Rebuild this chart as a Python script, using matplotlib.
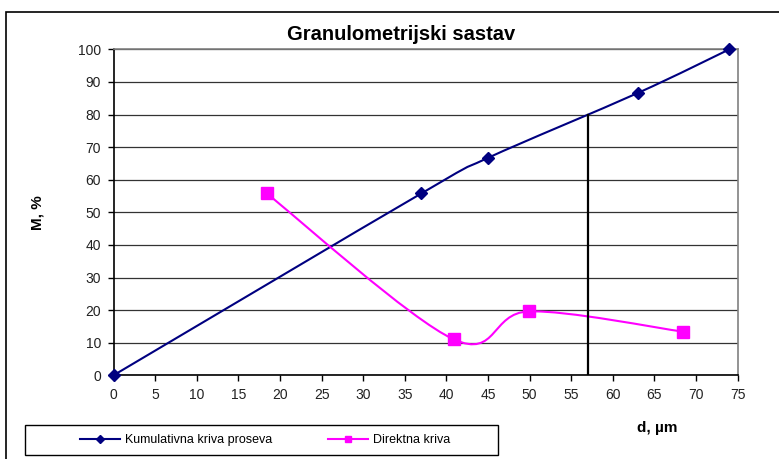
import matplotlib
matplotlib.use("Agg")
import matplotlib.pyplot as plt
from matplotlib.path import Path
from matplotlib.patches import PathPatch, Rectangle
from matplotlib.lines import Line2D

plt.rcParams["font.family"] = ["Liberation Sans", "DejaVu Sans"]

# cumulative curve
kum_x = [0, 37, 45, 63, 74]
kum_y = [0, 55.8, 66.7, 86.6, 100]
# direct curve
dir_x = [18.4, 40.9, 49.9, 68.4]
dir_y = [55.8, 11.0, 19.6, 13.4]
# vertical marker line
d80 = 57
m80 = 80


def smooth_path(xs, ys):
    # Excel-like smoothed line: Catmull-Rom segments as cubic beziers
    pts = list(zip(xs, ys))
    n = len(pts)
    verts = [pts[0]]
    codes = [Path.MOVETO]
    for i in range(n - 1):
        p0 = pts[i - 1] if i > 0 else pts[i]
        p1 = pts[i]
        p2 = pts[i + 1]
        p3 = pts[i + 2] if i + 2 < n else pts[i + 1]
        c1 = (p1[0] + (p2[0] - p0[0]) / 6, p1[1] + (p2[1] - p0[1]) / 6)
        c2 = (p2[0] - (p3[0] - p1[0]) / 6, p2[1] - (p3[1] - p1[1]) / 6)
        verts += [c1, c2, p2]
        codes += [Path.CURVE4] * 3
    return Path(verts, codes)


W, H = 779, 459
fig = plt.figure(figsize=(W / 100, H / 100), dpi=100)
ax = fig.add_axes([113.5 / W, (H - 375.3) / H, 624.2 / W, 326 / H])

navy = "#000080"
mag = "#FF00FF"

ax.add_patch(PathPatch(smooth_path(kum_x, kum_y), fill=False, edgecolor=navy, lw=1.5, zorder=3))
ax.plot(kum_x, kum_y, ls="none", marker="D", ms=6, color=navy, zorder=4, clip_on=False)
ax.add_patch(PathPatch(smooth_path(dir_x, dir_y), fill=False, edgecolor=mag, lw=1.5, zorder=3))
ax.plot(dir_x, dir_y, ls="none", marker="s", ms=8, color=mag, zorder=4, clip_on=False)
ax.plot([d80, d80], [0, m80], color="black", lw=1.6, zorder=3)

ax.set_xlim(0, 75)
ax.set_ylim(0, 100)
ax.set_xticks(range(0, 76, 5))
ax.set_yticks(range(0, 101, 10))
ax.tick_params(direction="out", length=4, width=1, labelsize=10, colors="black",
               labelcolor="#222222", pad=5)
ax.grid(axis="y", color="#333333", lw=0.9)
ax.set_axisbelow(True)
ax.spines["left"].set_color("black")
ax.spines["bottom"].set_color("black")
ax.spines["left"].set_linewidth(1.2)
ax.spines["bottom"].set_linewidth(1.2)
ax.spines["top"].set_color("#808080")
ax.spines["right"].set_color("#808080")
ax.spines["top"].set_linewidth(1.2)
ax.spines["right"].set_linewidth(1.2)

fig.text(401 / W, 1 - 35 / H, "Granulometrijski sastav", ha="center", va="center",
         fontsize=14.5, fontweight="bold")
fig.text(37 / W, 1 - 213 / H, "M, %", ha="center", va="center", rotation=90,
         fontsize=11, fontweight="bold")
fig.text(657 / W, 1 - 428 / H, "d, \u00b5m", ha="center", va="center",
         fontsize=11, fontweight="bold")

# outer chart frame and legend box
fig.patches.append(Rectangle((6 / W, -0.1), 1.2, (H - 12) / H + 0.1, transform=fig.transFigure,
                             fill=False, edgecolor="black", lw=1.2))
fig.patches.append(Rectangle((25 / W, 1 - 455 / H), 473 / W, 30 / H, transform=fig.transFigure,
                             fill=False, edgecolor="black", lw=1.0))

handles = [
    Line2D([], [], color=navy, lw=1.5, marker="D", ms=4),
    Line2D([], [], color=mag, lw=1.5, marker="s", ms=5),
]
fig.legend(handles, ["Kumulativna kriva proseva", "Direktna kriva"], ncol=2,
           loc="center", bbox_to_anchor=(265 / W, 1 - 440 / H), frameon=False,
           fontsize=9, handlelength=3.2, handletextpad=0.4, columnspacing=4.5)

fig.savefig("out.png", dpi=100)
